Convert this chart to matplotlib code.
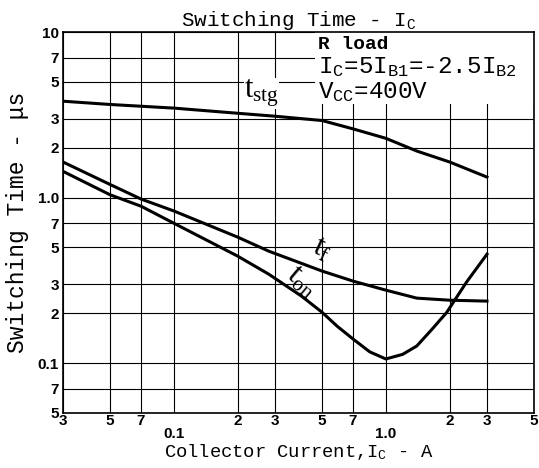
import matplotlib
matplotlib.use("Agg")
import matplotlib.pyplot as plt
from matplotlib.patches import Rectangle
from matplotlib.ticker import FixedLocator, NullFormatter, NullLocator

plt.rcParams["mathtext.fontset"] = "custom"
plt.rcParams["mathtext.rm"] = "Liberation Mono"
plt.rcParams["mathtext.it"] = "Liberation Serif"

# values (Ic in A, time in us)
tstg_x = [0.03, 0.05, 0.1, 0.2, 0.3, 0.5, 0.7, 1.0, 1.4, 2.0, 3.0]
tstg_y = [3.82, 3.65, 3.47, 3.23, 3.1, 2.92, 2.6, 2.28, 1.91, 1.64, 1.33]

tf_x = [0.03, 0.05, 0.07, 0.1, 0.2, 0.28, 0.5, 0.7, 1.0, 1.4, 2.0, 3.0]
tf_y = [1.64, 1.2, 0.98, 0.83, 0.577, 0.475, 0.36, 0.313, 0.276, 0.247, 0.24, 0.237]

ton_x = [0.03, 0.05, 0.07, 0.1, 0.2, 0.28, 0.4, 0.5, 0.59, 0.7, 0.84, 1.0, 1.2, 1.4, 1.65, 1.94, 2.4, 3.0]
ton_y = [1.44, 1.04, 0.887, 0.70, 0.443, 0.345, 0.254, 0.203, 0.167, 0.140, 0.117, 0.106, 0.113, 0.127,
         0.160, 0.203, 0.308, 0.455]

x_major = [0.1, 1.0]
x_minor = [0.03, 0.05, 0.07, 0.2, 0.3, 0.5, 0.7, 2, 3, 5]
x_minor_labels = ["3", "5", "7", "2", "3", "5", "7", "2", "3", "5"]
y_ticks = [0.05, 0.07, 0.1, 0.2, 0.3, 0.5, 0.7, 1.0, 2, 3, 5, 7, 10]
y_labels = ["5", "7", "0.1", "2", "3", "5", "7", "1.0", "2", "3", "5", "7", "10"]

fig = plt.figure(figsize=(5.39, 4.68), dpi=100)
ax = fig.add_axes([63 / 539, 1 - 413 / 468, (534 - 63) / 539, (413 - 32) / 468])
ax.set_xscale("log")
ax.set_yscale("log")
ax.set_xlim(0.03, 5)
ax.set_ylim(0.05, 10)

ax.plot(tstg_x, tstg_y, color="black", lw=2.2, solid_joinstyle="round")
ax.plot(tf_x, tf_y, color="black", lw=2.2, solid_joinstyle="round")
ax.plot(ton_x, ton_y, color="black", lw=2.2, solid_joinstyle="round")

tickfont = {"family": "Liberation Sans", "weight": "bold", "size": 11}
ax.xaxis.set_major_locator(FixedLocator(x_major))
ax.set_xticklabels(["0.1", "1.0"], fontdict=tickfont)
ax.set_xticks(x_minor, minor=True)
ax.set_xticklabels(x_minor_labels, minor=True, fontdict=tickfont)
ax.tick_params(axis="x", which="major", length=0, pad=10)
ax.tick_params(axis="x", which="minor", length=0, pad=1)
ax.set_yticks(y_ticks)
ax.set_yticklabels(y_labels, fontdict=tickfont)
ax.yaxis.set_minor_locator(NullLocator())
ax.yaxis.set_minor_formatter(NullFormatter())
ax.tick_params(axis="y", which="both", length=0, pad=3)

ax.grid(True, which="both", color="black", lw=0.8)
for s in ax.spines.values():
    s.set_linewidth(1.2)

# blank patch behind the conditions text
ax.add_patch(Rectangle((0.535, 0.81), 0.465, 0.19, transform=ax.transAxes,
                       facecolor="white", edgecolor="none", zorder=1.7))

mono = "Liberation Mono"
ax.set_title(r"Switching Time - I$_\mathrm{C}$", family=mono, fontsize=15, pad=3)
ax.set_xlabel(r"Collector Current,I$_\mathrm{C}$ - A", family=mono, fontsize=13.5, labelpad=1)
ax.set_ylabel("Switching Time - μs", family=mono, fontsize=16.5, labelpad=6)

ax.text(0.541, 0.955, "R load", transform=ax.transAxes, family=mono, fontsize=14,
        fontweight="bold", va="baseline", ha="left", zorder=3)
ax.text(0.541, 0.89, r"I$_\mathrm{C}$=5I$_\mathrm{B1}$=-2.5I$_\mathrm{B2}$", transform=ax.transAxes,
        family=mono, fontsize=17.5, va="baseline", ha="left", zorder=3)
ax.text(0.541, 0.825, r"V$_\mathrm{CC}$=400V", transform=ax.transAxes,
        family=mono, fontsize=17.5, va="baseline", ha="left", zorder=3)

ax.text(0.215, 4.25, r"$t_{stg}$", fontsize=22, ha="left", va="center",
        bbox=dict(facecolor="white", edgecolor="none", pad=0))
ax.text(0.5, 0.49, r"$t_f$", fontsize=22, rotation=-25, ha="center", va="center")
ax.text(0.405, 0.315, r"$t_{on}$", fontsize=22, rotation=-40, ha="center", va="center")

fig.savefig("out.png", dpi=100)
